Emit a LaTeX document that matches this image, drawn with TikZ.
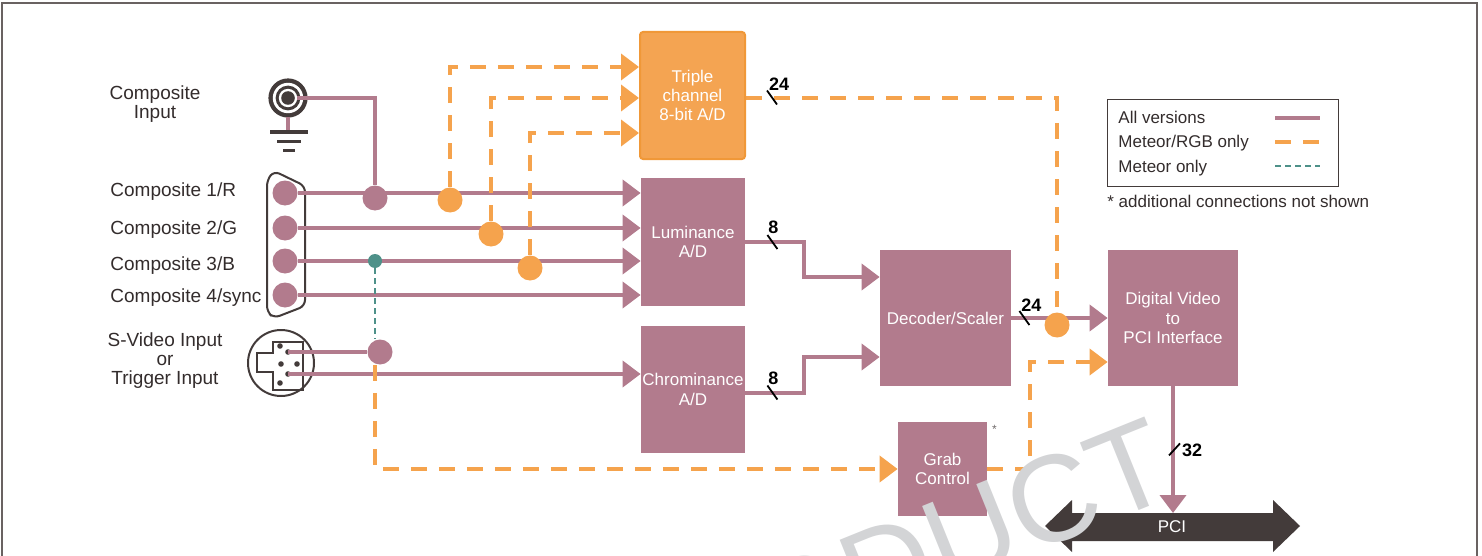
\documentclass[tikz,border=0pt]{standalone}
\usepackage{fontspec}
\setmainfont{Liberation Sans}
\usetikzlibrary{arrows.meta,calc,backgrounds}

\definecolor{mauve}{HTML}{B27B8D}
\definecolor{rgborange}{HTML}{F5A34D}
\definecolor{adorange}{HTML}{F4A452}
\definecolor{adedge}{HTML}{F09838}
\definecolor{metteal}{HTML}{4E9189}
\definecolor{darkbrown}{HTML}{433B3A}
\definecolor{darktext}{HTML}{332C2C}
\definecolor{markgray}{HTML}{D3D4D6}

\begin{document}
\begin{tikzpicture}[x=0.5pt, y=-0.5pt,
    block/.style={fill=mauve, text=white, align=center, inner sep=0pt, font=\fontsize{8.5}{9.7}\selectfont},
    sig/.style={draw=mauve, line width=2pt},
    rgb/.style={draw=rgborange, line width=2pt, dash pattern=on 8pt off 6pt},
    met/.style={draw=metteal, line width=1pt, dash pattern=on 3pt off 2pt},
    into/.style={-{Triangle[length=9pt, width=13pt]}},
    mdot/.style={circle, fill=mauve, minimum size=12.5pt, inner sep=0pt},
    odot/.style={circle, fill=rgborange, minimum size=12.5pt, inner sep=0pt},
    tdot/.style={circle, fill=metteal, minimum size=7pt, inner sep=0pt},
    lbl/.style={text=darktext, inner sep=0pt, align=center, font=\fontsize{9.5}{9.5}\selectfont},
    leg/.style={text=darktext, inner sep=0pt, font=\fontsize{8.5}{8.5}\selectfont},
    num/.style={text=black, inner sep=0pt, font=\fontsize{9}{9}\selectfont\bfseries},
    slash/.style={draw=black, line width=0.9pt}]
  \useasboundingbox (0,0) rectangle (1482,556);
  \draw[darkbrown!80, line width=1pt] (2,556) -- (2,3) -- (1477,3) -- (1477,556);

  % blocks
  \node[block, fill=adorange, draw=adedge, line width=1pt, rounded corners=1.5pt,
        minimum width=52.5pt, minimum height=63.5pt] (triple) at (692.5,95.5) {Triple\\channel\\8-bit A/D};
  \node[block, minimum width=52pt, minimum height=64pt] (lum) at (693,242) {Luminance\\A/D};
  \node[block, minimum width=52pt, minimum height=63.5pt] (chrom) at (693,389.5) {Chrominance\\A/D};
  \node[block, minimum width=65.5pt, minimum height=68pt] (dec) at (945.5,318) {Decoder/Scaler};
  \node[block, minimum width=44.5pt, minimum height=47pt] (grab) at (942.5,469) {Grab\\Control};
  \node[block, minimum width=65pt, minimum height=68pt] (dv) at (1173,318) {Digital Video\\to\\PCI Interface};
  \node[text=darktext!70, inner sep=0pt, font=\fontsize{6}{6}\selectfont] (grabstar) at ($(grab.north east)+(7,8)$) {*};

  % input labels
  \node[lbl] (lcin) at (155,104) {Composite\\Input};
  \node[lbl, anchor=base west] (lc1) at (110,196) {Composite 1/R};
  \node[lbl, anchor=base west] (lc2) at (110,234) {Composite 2/G};
  \node[lbl, anchor=base west] (lc3) at (110,270) {Composite 3/B};
  \node[lbl, anchor=base west] (lc4) at (110,302) {Composite 4/sync};
  \node[lbl] (lsv) at (165,361) {S-Video Input\\or\\Trigger Input};

  % connector pins and junctions
  \node[mdot] (p1) at (285,193) {};
  \node[mdot] (p2) at (285,228) {};
  \node[mdot] (p3) at (285,261) {};
  \node[mdot] (p4) at (285,295) {};
  \node[mdot] (j1) at (375,198) {};
  \node[odot] (o1) at (450,200) {};
  \node[odot] (o2) at (491,234) {};
  \node[odot] (o3) at (530,268) {};
  \node[tdot] (mt) at (375,261) {};
  \node[mdot] (s1) at (380,352) {};
  \node[odot] (o4) at (1057,325) {};

  \coordinate (bnc) at (288,98);
  \coordinate (bncout) at (297,98);
  \coordinate (svA) at (288,352);
  \coordinate (svB) at (288,374);
  \coordinate (tA) at (triple.west |- 0,67);
  \coordinate (tB) at (triple.west |- 0,98);
  \coordinate (tC) at (triple.west |- 0,133);
  \coordinate (dA) at (dec.west |- 0,277);
  \coordinate (dB) at (dec.west |- 0,357);
  \coordinate (dC) at (dv.west |- 0,362);
  \coordinate (pcitop) at (dv.south |- 0,513);

  \begin{scope}[on background layer]
    % BNC jack and ground
    \fill[darkbrown] (bnc) circle (9.8pt);
    \fill[white] (bnc) circle (7.6pt);
    \fill[darkbrown] (bnc) circle (6.2pt);
    \fill[white] (bnc) circle (4.6pt);
    \fill[darkbrown] (bnc) circle (3.4pt);
    \draw[sig] ($(bnc)+(0,19)$) -- ++(0,14);
    \draw[darkbrown, line width=1.5pt] (270,132) -- (308,132) (277,141) -- (301,141) (283,150) -- (295,150);
    % D-sub
    \draw[darkbrown, line width=1pt, rounded corners=3pt]
      (267,180) -- (267,312) -- (274,318) -- (305,306) -- (305,186) -- (274,171) -- cycle;
    % S-Video mini-DIN
    \draw[darkbrown, line width=1pt] (281,363) circle (16.5pt);
    \draw[darkbrown, line width=1pt]
      (273,342) -- (303,342) -- (303,390) -- (273,390) -- (273,372) -- (257,372) -- (257,353) -- (273,353) -- cycle;
    \foreach \px/\py in {280/346, 288/352, 281/364, 297/364, 288/374, 280/383}
      \fill[darkbrown] (\px,\py) circle (1.4pt);

    % all versions
    \draw[sig] (bncout) -| (j1);
    \foreach \p in {p1,p2,p3,p4}
      \draw[sig,into] (\p) -- (\p -| lum.west);
    \draw[sig] (svA) -- (s1);
    \draw[sig,into] (svB) -- (svB -| chrom.west);
    \draw[sig,into] (lum.east) -- ++(59,0) |- (dA);
    \draw[sig,into] ($(chrom.east)+(0,3)$) -- ++(59,0) |- (dB);
    \draw[sig,into] (dec.east) -- (dv.west);
    \draw[sig,into] (dv.south) -- (pcitop);
    % Meteor/RGB only
    \draw[rgb,into] (o1) |- (tA);
    \draw[rgb,into] (o2) |- (tB);
    \draw[rgb,into] (o3) |- (tC);
    \draw[rgb] (triple.east |- tB) -| (o4);
    \draw[rgb,into] (mt |- s1.south) |- (grab.west);
    \draw[rgb,into] (grab.east) -- ++(43,0) |- (dC);
    % Meteor only
    \draw[met] (mt) -- (mt |- s1.north);
  \end{scope}

  % PCI bus
  \fill[darkbrown] (1045,526) -- (1072,500) -- (1072,513) -- (1273,513) -- (1273,500) -- (1300,526)
    -- (1273,552) -- (1273,541) -- (1072,541) -- (1072,552) -- cycle;
  \node[text=white, inner sep=0pt, font=\fontsize{8.5}{8.5}\selectfont] (pci) at (1172,527) {PCI};

  % bus widths
  \draw[slash] ($(triple.east)+(21,-5)$) -- ++(10,14);
  \draw[slash] ($(lum.east)+(22,-7)$) -- ++(10,14);
  \draw[slash] ($(chrom.east)+(22,-4)$) -- ++(10,14);
  \draw[slash] ($(dec.east)+(8,-7)$) -- ++(10,14);
  \draw[slash] ($(dv.south)+(-4,69)$) -- ++(11,-12);
  \node[num] (w24a) at ($(triple.east)+(33,-11)$) {24};
  \node[num] (w8a) at ($(lum.east)+(28,-15)$) {8};
  \node[num] (w8b) at ($(chrom.east)+(28,-11)$) {8};
  \node[num] (w24b) at ($(dec.east)+(20,-13)$) {24};
  \node[num] (w32) at ($(dv.south)+(19,64)$) {32};

  % legend
  \node[draw=darkbrown, line width=0.7pt, minimum width=115.5pt, minimum height=43.5pt,
        anchor=north west, inner sep=0pt] (legend) at (1107,99) {};
  \node[leg, anchor=base west] (lgall) at (1118,124) {All versions};
  \node[leg, anchor=base west] (lgrgb) at (1118,148) {Meteor/RGB only};
  \node[leg, anchor=base west] (lgmet) at (1118,172) {Meteor only};
  \draw[sig] ($(legend.north west)+(168,19)$) -- ++(45,0);
  \draw[rgb] ($(legend.north west)+(168,43)$) -- ++(45,0);
  \draw[met] ($(legend.north west)+(168,67)$) -- ++(45,0);
  \node[leg, anchor=base west] (lgnote) at (1107,207) {* additional connections not shown};

  % watermark
  \begin{scope}
    \clip (0,0) rectangle (1482,556);
    \node[text=markgray, inner sep=0pt, rotate=22, anchor=base east,
          font=\fontsize{61.5}{61.5}\selectfont] (mark) at (1180,494) {PRODUCT};
  \end{scope}
\end{tikzpicture}
\end{document}
